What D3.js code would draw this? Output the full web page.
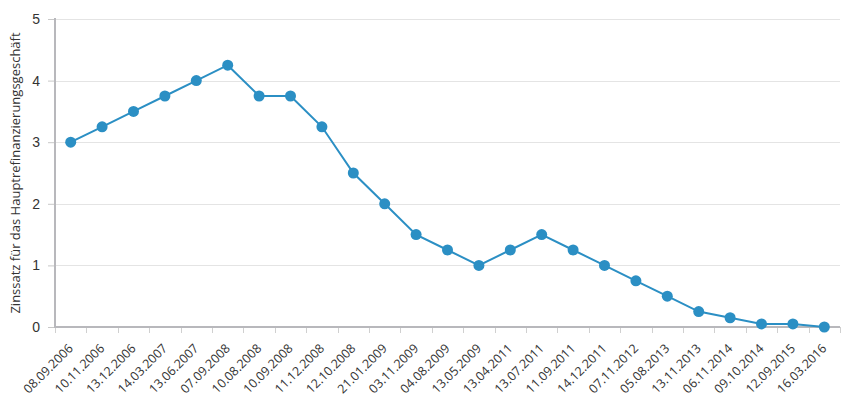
<!DOCTYPE html>
<html>
<head>
<meta charset="utf-8">
<script src="https://cdn.jsdelivr.net/npm/d3@7"></script>
<style>
  body { margin: 0; background: #fff; }
  svg { font-family: "Open Sans", "DejaVu Sans", sans-serif; }
</style>
</head>
<body>
<svg width="846" height="397"></svg>
<script>
// Leitzins-Daten
var dates = ["08.09.2006", "10.11.2006", "13.12.2006", "14.03.2007", "13.06.2007",
    "07.09.2008", "10.08.2008", "10.09.2008", "11.12.2008", "12.10.2008",
    "21.01.2009", "03.11.2009", "04.08.2009", "13.05.2009", "13.04.2011",
    "13.07.2011", "11.09.2011", "14.12.2011", "07.11.2012", "05.08.2013",
    "13.11.2013", "06.11.2014", "09.10.2014", "12.09.2015", "16.03.2016"];
var rates = [3, 3.25, 3.5, 3.75, 4, 4.25, 3.75, 3.75, 3.25, 2.5,
    2, 1.5, 1.25, 1, 1.25, 1.5, 1.25, 1, 0.75, 0.5,
    0.25, 0.15, 0.05, 0.05, 0];
var yTicks = [0, 1, 2, 3, 4, 5];
var yTitle = "Zinssatz für das Hauptrefinanzierungsgeschäft";

draw();

function draw() {
    var svg = d3.select("svg");
    var plotLeft = 55, plotRight = 840, plotTop = 19, plotBottom = 327;
    var lineColor = "#2b8fc4";

    var x = d3.scaleBand().domain(dates).range([plotLeft, plotRight]);
    var y = d3.scaleLinear().domain([0, 5]).range([plotBottom, plotTop]);

    // gridlines
    svg.append("g")
        .selectAll("line")
        .data(yTicks.slice(1))
        .enter().append("line")
        .attr("x1", plotLeft).attr("x2", plotRight)
        .attr("y1", function(d) { return Math.round(y(d)) + 0.5; })
        .attr("y2", function(d) { return Math.round(y(d)) + 0.5; })
        .attr("stroke", "#e4e4e4");

    // y axis
    var yAxis = svg.append("g")
        .attr("transform", "translate(" + plotLeft + ",0)")
        .call(d3.axisLeft(y).tickValues(yTicks).tickFormat(d3.format("d")).tickSize(7).tickPadding(8));
    yAxis.select(".domain").remove();
    yAxis.selectAll(".tick line").attr("stroke", "#c8c8c8");
    yAxis.selectAll(".tick text").attr("font-size", "14px").attr("fill", "#333").attr("font-family", "inherit");

    svg.append("line")
        .attr("x1", plotLeft).attr("x2", plotLeft)
        .attr("y1", plotTop - 1).attr("y2", plotBottom + 1)
        .attr("stroke", "#b8b8bc").attr("stroke-width", 2);

    // x axis, ticks sit between the categories
    var xg = svg.append("g").attr("transform", "translate(0," + plotBottom + ")");
    xg.selectAll("line.tick")
        .data(dates.concat(["end"]))
        .enter().append("line")
        .attr("class", "tick")
        .attr("x1", function(d, i) { return Math.round(plotLeft + i * x.step()) + 0.5; })
        .attr("x2", function(d, i) { return Math.round(plotLeft + i * x.step()) + 0.5; })
        .attr("y1", 0).attr("y2", 6)
        .attr("stroke", "#d0d0d0");
    xg.append("line")
        .attr("x1", plotLeft).attr("x2", plotRight)
        .attr("y1", 0).attr("y2", 0)
        .attr("stroke", "#b8b8bc").attr("stroke-width", 2);
    xg.selectAll("text")
        .data(dates)
        .enter().append("text")
        .attr("transform", function(d) {
            return "translate(" + (x(d) + x.bandwidth() / 2) + ",19) rotate(-45)";
        })
        .attr("text-anchor", "end")
        .attr("dy", "0.35em")
        .attr("font-size", "12.5px")
        .attr("fill", "#333")
        .text(function(d) { return d; });

    // y title
    svg.append("text")
        .attr("transform", "translate(20," + ((plotTop + plotBottom) / 2) + ") rotate(-90)")
        .attr("text-anchor", "middle")
        .attr("font-size", "13px")
        .attr("fill", "#333")
        .text(yTitle);

    // line + points
    var line = d3.line()
        .x(function(d, i) { return x(dates[i]) + x.bandwidth() / 2; })
        .y(function(d) { return y(d); });

    svg.append("path")
        .datum(rates)
        .attr("d", line)
        .attr("fill", "none")
        .attr("stroke", lineColor)
        .attr("stroke-width", 2);

    svg.append("g")
        .selectAll("circle")
        .data(rates)
        .enter().append("circle")
        .attr("cx", function(d, i) { return x(dates[i]) + x.bandwidth() / 2; })
        .attr("cy", function(d) { return y(d); })
        .attr("r", 5.5)
        .attr("fill", lineColor);
}
</script>
</body>
</html>
